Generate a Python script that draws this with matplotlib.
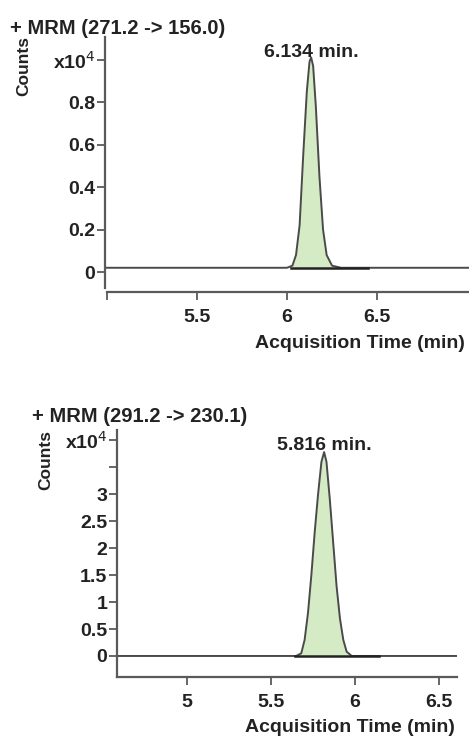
import matplotlib
matplotlib.use("Agg")
import matplotlib.pyplot as plt

plt.rcParams["font.family"] = ["Liberation Sans", "DejaVu Sans"]

# ---- Chromatogram 1: MRM (271.2 -> 156.0), counts in x10^4 ----
title1 = "+ MRM (271.2 -> 156.0)"
time1 = [4.99, 5.50, 5.90, 6.00, 6.03, 6.05, 6.07, 6.09, 6.11, 6.125, 6.134,
         6.145, 6.16, 6.18, 6.20, 6.22, 6.25, 6.30, 6.60, 7.01]
counts1 = [0.02, 0.02, 0.02, 0.02, 0.03, 0.08, 0.22, 0.55, 0.85, 0.99, 1.01,
           0.97, 0.78, 0.45, 0.20, 0.08, 0.03, 0.02, 0.02, 0.02]
peak1 = 6.134
integ1 = [6.02, 6.45]          # integration baseline start/end
yticks1 = [0, 0.2, 0.4, 0.6, 0.8, 1.0]
yticklabels1 = ["0", "0.2", "0.4", "0.6", "0.8", "x10$^4$"]
xticks1 = [5.0, 5.5, 6.0, 6.5]
xticklabels1 = ["", "5.5", "6", "6.5"]

# ---- Chromatogram 2: MRM (291.2 -> 230.1) ----
title2 = "+ MRM (291.2 -> 230.1)"
time2 = [4.58, 5.50, 5.65, 5.68, 5.70, 5.72, 5.74, 5.76, 5.78, 5.80, 5.816,
         5.83, 5.85, 5.87, 5.89, 5.91, 5.93, 5.95, 5.98, 6.61]
counts2 = [0.0, 0.0, 0.0, 0.05, 0.3, 0.8, 1.5, 2.3, 3.0, 3.6, 3.78,
           3.6, 2.9, 2.1, 1.3, 0.7, 0.3, 0.08, 0.0, 0.0]
peak2 = 5.816
integ2 = [5.64, 6.14]
yticks2 = [0, 0.5, 1, 1.5, 2, 2.5, 3, 3.5, 4]
yticklabels2 = ["0", "0.5", "1", "1.5", "2", "2.5", "3", "", "x10$^4$"]
xticks2 = [5.0, 5.5, 6.0, 6.5]
xticklabels2 = ["5", "5.5", "6", "6.5"]

FILL = "#d4ebc6"
LINE = "#4a4a4a"
AXC = "#5a5a5a"
TXT = "#222222"
FS = 14


def style_axes(ax, xlim, ylim, ybounds, xbounds):
    ax.set_xlim(*xlim)
    ax.set_ylim(*ylim)
    for s in ["top", "right"]:
        ax.spines[s].set_visible(False)
    for s in ["left", "bottom"]:
        ax.spines[s].set_color(AXC)
        ax.spines[s].set_linewidth(1.6)
    ax.spines["left"].set_bounds(*ybounds)
    ax.spines["bottom"].set_bounds(*xbounds)
    ax.tick_params(axis="both", colors=AXC, width=1.3, length=6,
                   labelcolor=TXT, labelsize=FS)
    ax.tick_params(axis="y", pad=1)
    ax.tick_params(axis="x", pad=6)
    for lab in ax.get_xticklabels() + ax.get_yticklabels():
        lab.set_fontweight("bold")
    ax.patch.set_alpha(0)


def draw_peak(ax, t, c, integ, base):
    ax.fill_between(t, base, c, color=FILL, linewidth=0)
    ax.plot(t, c, color=LINE, linewidth=1.4)
    ax.plot(integ, [base, base], color=TXT, linewidth=1.8)


fig = plt.figure(figsize=(4.69, 7.37), dpi=100)

# ---- top panel ----
ax1 = fig.add_axes([105 / 469, 1 - 292 / 737, 364 / 469, 255 / 737])
draw_peak(ax1, time1, counts1, integ1, counts1[0])
ax1.set_xticks(xticks1)
ax1.set_xticklabels(xticklabels1)
ax1.set_yticks(yticks1)
ax1.set_yticklabels(yticklabels1)
style_axes(ax1, (4.99, 7.01), (-0.094, 1.106), (-0.075, 1.106), (5.0, 7.01))
ax1.text(peak1, 1.035, f"{peak1:.3f} min.", ha="center", va="center",
         fontsize=FS, fontweight="bold", color=TXT)

fig.text(465 / 469, 1 - 343 / 737, "Acquisition Time (min)", ha="right",
         va="center", fontsize=FS, fontweight="bold", color=TXT)
fig.text(10 / 469, 1 - 28 / 737, title1, ha="left", va="center",
         fontsize=14.5, fontweight="bold", color=TXT)
fig.text(24 / 469, 1 - 66 / 737, "Counts", ha="center", va="center",
         rotation=90, fontsize=12.5, fontweight="bold", color=TXT)

# ---- bottom panel ----
ax2 = fig.add_axes([117 / 469, 1 - 677 / 737, 340 / 469, 247 / 737])
draw_peak(ax2, time2, counts2, integ2, counts2[0])
ax2.set_xticks(xticks2)
ax2.set_xticklabels(xticklabels2)
ax2.set_yticks(yticks2)
ax2.set_yticklabels(yticklabels2)
style_axes(ax2, (4.583, 6.607), (-0.39, 4.19), (-0.39, 4.19), (4.583, 6.607))
ax2.text(peak2, 3.9, f"{peak2:.3f} min.", ha="center", va="center",
         fontsize=FS, fontweight="bold", color=TXT)

fig.text(455 / 469, 1 - 727 / 737, "Acquisition Time (min)", ha="right",
         va="center", fontsize=FS, fontweight="bold", color=TXT)
fig.text(32 / 469, 1 - 417 / 737, title2, ha="left", va="center",
         fontsize=14.5, fontweight="bold", color=TXT)
fig.text(46 / 469, 1 - 460 / 737, "Counts", ha="center", va="center",
         rotation=90, fontsize=12.5, fontweight="bold", color=TXT)

fig.savefig("out.png", dpi=100)
